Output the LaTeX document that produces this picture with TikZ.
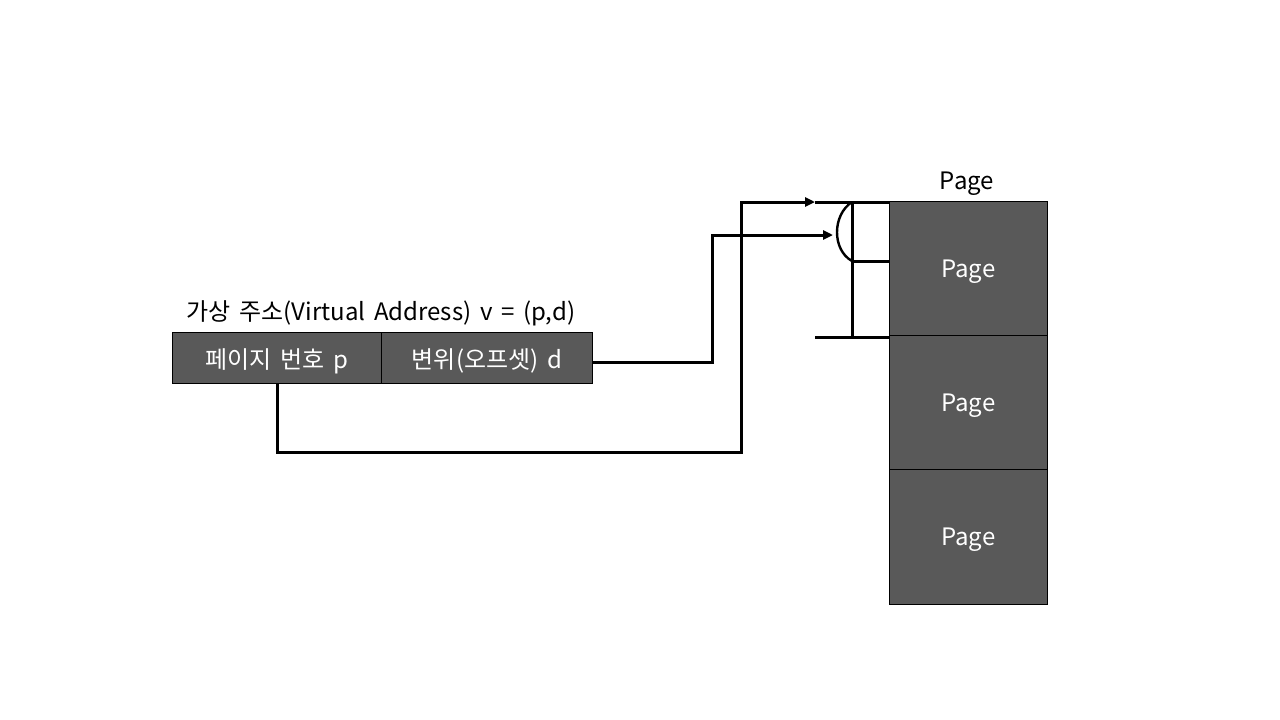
\documentclass[tikz,border=0pt]{standalone}
\usepackage{fontspec}
\setmainfont{Noto Sans CJK KR}[WordSpace=1.6]
\usetikzlibrary{arrows.meta}
\newcommand\lowtxt[1]{\raisebox{-3pt}[\height][\depth]{#1}}
\begin{document}
\begin{tikzpicture}[x=1pt,y=-1pt,
  cell/.style={draw=black,line width=0.8pt,fill=boxgray,text=white,inner sep=0pt,font=\fontsize{24}{28}\selectfont},
  conn/.style={line width=3pt,line join=miter},
  arr/.style={conn,-{Triangle[length=10pt,width=9pt]}}]
\definecolor{boxgray}{HTML}{595959}
\useasboundingbox (0,0) rectangle (1280,720);
% address fields
\node[cell,minimum width=209pt,minimum height=51pt,anchor=north west] (pn) at (172,332) {\lowtxt{페이지 번호 p}};
\node[cell,minimum width=211pt,minimum height=51pt,anchor=north west] (off) at (381,332) {\lowtxt{변위(오프셋) d}};
\node[font=\fontsize{24}{28}\selectfont] (va) at (381,313) {가상 주소(Virtual Address) v = (p,d)};
% pages
\node[cell,minimum width=158pt,minimum height=134pt,anchor=north west] (p1) at (889,201) {\lowtxt{Page}};
\node[cell,minimum width=158pt,minimum height=134pt,anchor=north west] (p2) at (889,335) {\lowtxt{Page}};
\node[cell,minimum width=158pt,minimum height=135pt,anchor=north west] (p3) at (889,469) {\lowtxt{Page}};
\node[font=\fontsize{24}{28}\selectfont] (ptitle) at (967,184) {Page};
% bracket coordinates
\coordinate (t1) at (815,202);
\coordinate (t2) at (833,235);
\coordinate (bt) at (852,202);
\coordinate (bm) at (852,261);
\coordinate (bb) at (852,337);
\coordinate (bl) at (815,337);
\coordinate (oe) at (592,362);
% connectors
\draw[arr] (pn.south -| 277,0) -- (277,452) -- (741,452) -- (741,202) -- (t1);
\draw[arr] (oe) -- (712,362) -- (712,235) -- (t2);
% bracket
\draw[conn] (t1) -- (p1.north west |- t1);
\draw[conn] (bt) -- (bb);
\draw[conn] (bl) -- (p1.west |- bl);
\draw[conn] (bm) -- (p1.west |- bm);
\draw[line width=2.4pt] (bt) .. controls (832,215) and (832,250) .. (bm);
\end{tikzpicture}
\end{document}
